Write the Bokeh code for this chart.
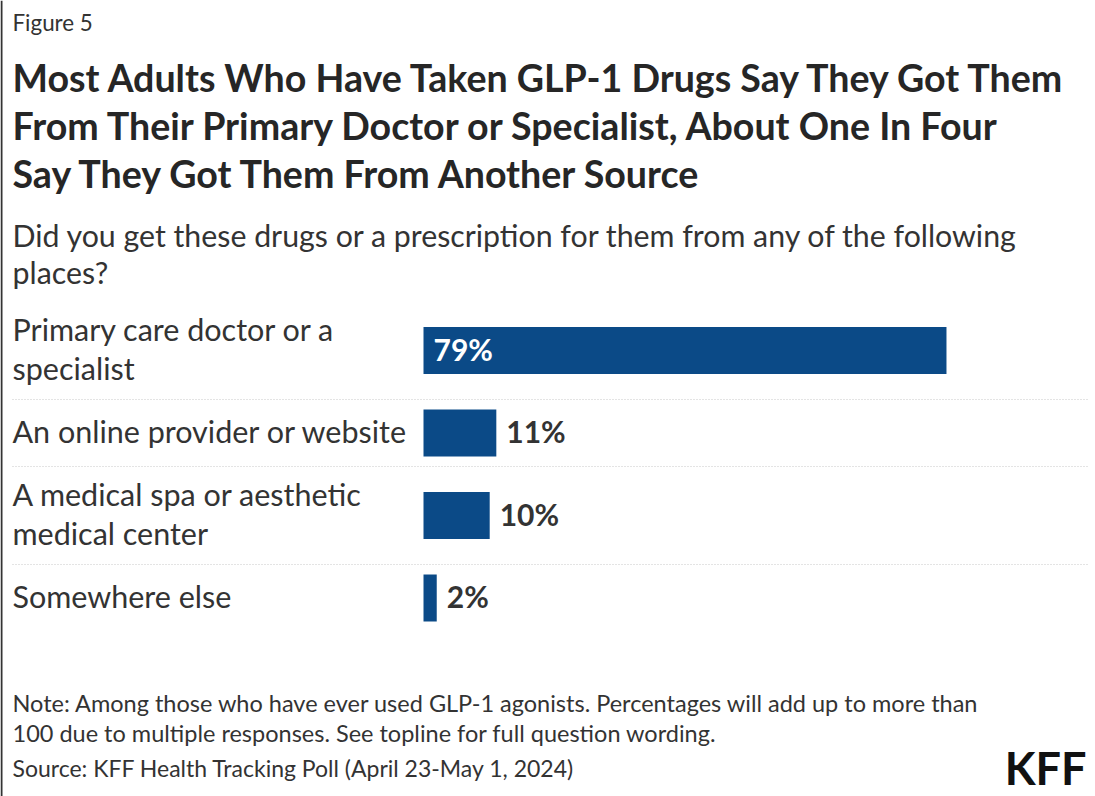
from bokeh.plotting import figure
from bokeh.models import Range1d, Label, Span, ColumnDataSource
from bokeh.core.properties import value
from bokeh.embed import file_html
from bokeh.resources import INLINE

# ---------------- data ----------------
categories = [
    "Primary care doctor or a\nspecialist",
    "An online provider or website",
    "A medical spa or aesthetic\nmedical center",
    "Somewhere else",
]
values = [79, 11, 10, 2]
value_labels = ["79%", "11%", "10%", "2%"]

figure_label = "Figure 5"
title_lines = [
    "Most Adults Who Have Taken GLP-1 Drugs Say They Got Them",
    "From Their Primary Doctor or Specialist, About One In Four",
    "Say They Got Them From Another Source",
]
subtitle_lines = [
    "Did you get these drugs or a prescription for them from any of the following",
    "places?",
]
note_lines = [
    "Note: Among those who have ever used GLP-1 agonists. Percentages will add up to more than",
    "100 due to multiple responses. See topline for full question wording.",
]
source_line = "Source: KFF Health Tracking Poll (April 23-May 1, 2024)"
logo_text = "KFF"

# ---------------- style / layout ----------------
W, H = 1095, 796
BAR_X0 = 423          # pixel where 0% sits
PX_PER_PCT = 6.62     # pixels per percentage point
BLUE = "#0b4a87"
DARK = "#262626"
TEXT = "#333333"
FONT = "Lato"
BASE_FIX = 0.42       # baseline correction (fraction of font size)

S_FIG, S_TITLE, S_SUB, S_LAB, S_VAL, S_NOTE, S_SRC, S_LOGO = 22.4, 37.6, 30.3, 30.5, 30, 23.5, 23, 45


def px(xp):
    """pixel column -> data x (percent)"""
    return (xp - BAR_X0) / PX_PER_PCT


def base(yb, size):
    return yb - BASE_FIX * size


p = figure(width=W, height=H, output_backend="svg", toolbar_location=None,
           x_range=Range1d(px(0), px(W)), y_range=Range1d(H, 0),
           x_axis_location=None, y_axis_location=None, min_border=0,
           background_fill_color="white", border_fill_color="white")
p.grid.visible = False
p.outline_line_color = None

# row layout: height depends on number of label lines
CHART_TOP = 301
LINE_H = 39
rows = []
y = CHART_TOP
for c in categories:
    n = len(c.split("\n"))
    h = 36 + 31 * n
    rows.append((y, y + h, n))
    y += h
centers = [(a + b) / 2 for a, b, _ in rows]

# separators between rows
for a, b, _ in rows[:-1]:
    p.segment(x0=[px(12)], x1=[px(1087)], y0=[b], y1=[b], line_color="#c8c8c8",
              line_width=1, line_dash="1 2")

# bars
src = ColumnDataSource(dict(y=centers, v=values, lab=value_labels))
p.hbar(y="y", left=0, right="v", height=47, source=src, fill_color=BLUE, line_color=None)

# value labels
inside = [v >= 30 for v in values]
vx = [0 if ins else v for v, ins in zip(values, inside)]
vcol = ["white" if ins else TEXT for ins in inside]
p.text(x=vx, y=[base(c + 11, S_VAL) for c in centers], text=value_labels, x_offset=10,
       text_color=vcol, text_font=value(FONT), text_font_size=f"{S_VAL}px",
       text_font_style="bold", text_baseline="alphabetic", text_align="left")

# category labels
lx, ly, lt = [], [], []
for c, cy in zip(categories, centers):
    parts = c.split("\n")
    n = len(parts)
    for i, t in enumerate(parts):
        lx.append(px(12))
        ly.append(base(cy + 11 + (i - (n - 1) / 2) * LINE_H, S_LAB))
        lt.append(t)
p.text(x=lx, y=ly, text=lt, text_color=TEXT, text_font=value(FONT),
       text_font_size=f"{S_LAB}px", text_baseline="alphabetic", text_align="left")


def lab(text, xp, yp, size, color=TEXT, bold=False, align="left"):
    p.add_layout(Label(x=px(xp), y=base(yp, size), text=text, text_font=FONT,
                       text_font_size=f"{size}px", text_color=color,
                       text_font_style="bold" if bold else "normal",
                       text_baseline="alphabetic", text_align=align))


lab(figure_label, 12, 31, S_FIG)
for i, t in enumerate(title_lines):
    lab(t, 12, 93 + 48 * i, S_TITLE, DARK, bold=True)
for i, t in enumerate(subtitle_lines):
    lab(t, 12, 247 + 37 * i, S_SUB)
for i, t in enumerate(note_lines):
    lab(t, 12, 712 + 30 * i, S_NOTE)
lab(source_line, 12, 777, S_SRC)
lab(logo_text, 1086, 786, S_LOGO, "#111111", bold=True, align="right")

# left frame line
p.add_layout(Span(location=px(1), dimension="height", line_color="#333333", line_width=2))

open("out.html", "w").write(file_html(p, INLINE))
